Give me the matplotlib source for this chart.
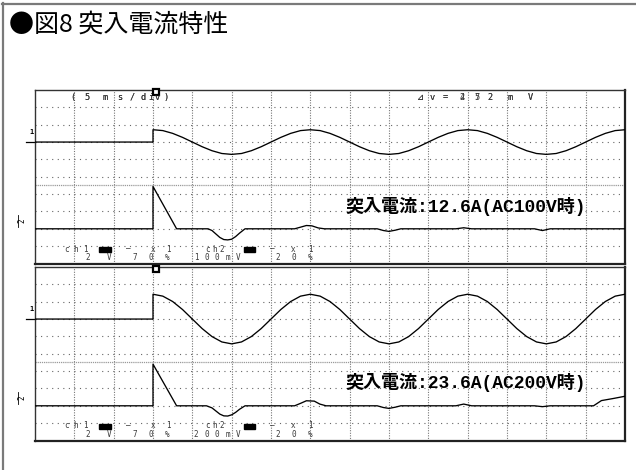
import matplotlib
matplotlib.use("Agg")
import matplotlib.pyplot as plt
from matplotlib.patches import Rectangle
from matplotlib.lines import Line2D
import numpy as np

plt.rcParams['font.family'] = ['Noto Sans CJK JP', 'DejaVu Sans']

# ---------------- data ----------------
TITLE = "●図8 突入電流特性"
TIME_DIV_LABEL = "(5ms/div)"
PANEL_DV = ["⊿v=252mV", "⊿v=472mV"]
PANEL_NOTE = ["突入電流:12.6A(AC100V時)", "突入電流:23.6A(AC200V時)"]
CH2_SCALE = ["100mV", "200mV"]

# time in ms (5 ms/div, trigger at 0)
PRE_T = [-15.0, 0.0]
PRE_V = [0.0, 0.0]
SINE_T = [0.0, 1.25, 2.5, 3.75, 5.0, 6.25, 7.5, 8.75, 10.0, 11.25, 12.5, 13.75,
          15.0, 16.25, 17.5, 18.75, 20.0, 21.25, 22.5, 23.75, 25.0, 26.25, 27.5,
          28.75, 30.0, 31.25, 32.5, 33.75, 35.0, 36.25, 37.5, 38.75, 40.0, 41.25,
          42.5, 43.75, 45.0, 46.25, 47.5, 48.75, 50.0, 51.25, 52.5, 53.75, 55.0,
          56.25, 57.5, 58.75, 60.0]
# channel 1 (line voltage), divisions from its baseline
CH1_AC100 = [0.71, 0.66, 0.50, 0.27, 0.00, -0.27, -0.50, -0.66, -0.71, -0.66, -0.50, -0.27,
             0.00, 0.27, 0.50, 0.66, 0.71, 0.66, 0.50, 0.27, 0.00, -0.27, -0.50, -0.66,
             -0.71, -0.66, -0.50, -0.27, 0.00, 0.27, 0.50, 0.66, 0.71, 0.66, 0.50, 0.27,
             0.00, -0.27, -0.50, -0.66, -0.71, -0.66, -0.50, -0.27, 0.00, 0.27, 0.50,
             0.66, 0.71]
CH1_AC200 = [1.43, 1.32, 1.01, 0.55, 0.00, -0.55, -1.01, -1.32, -1.43, -1.32, -1.01, -0.55,
             0.00, 0.55, 1.01, 1.32, 1.43, 1.32, 1.01, 0.55, 0.00, -0.55, -1.01, -1.32,
             -1.43, -1.32, -1.01, -0.55, 0.00, 0.55, 1.01, 1.32, 1.43, 1.32, 1.01, 0.55,
             0.00, -0.55, -1.01, -1.32, -1.43, -1.32, -1.01, -0.55, 0.00, 0.55, 1.01,
             1.32, 1.43]
# channel 2 (inrush current), divisions from its baseline
CH2_T_AC100 = [-15, 0, 0, 3.0, 7.0, 7.5, 8.0, 8.5, 9.0, 9.5, 10.0, 10.5, 11.0, 11.7,
               18.0, 18.8, 19.5, 20.2, 21.0, 21.8, 28.5, 29.3, 30.0, 30.8, 31.5,
               38.5, 39.5, 40.5, 48.5, 49.5, 50.5, 60]
CH2_V_AC100 = [0, 0, 2.44, 0, 0, -0.10, -0.30, -0.50, -0.62, -0.64, -0.60, -0.45, -0.25, 0,
               0, 0.10, 0.19, 0.17, 0.05, 0, 0, -0.10, -0.15, -0.08, 0,
               0, 0.06, 0, 0, -0.10, 0, 0]
CH2_T_AC200 = [-15, 0, 0, 3.0, 6.8, 7.5, 8.0, 8.5, 9.0, 9.5, 10.0, 10.5, 11.0, 11.7,
               18.0, 18.8, 19.5, 20.5, 21.2, 22.0, 28.5, 29.3, 30.0, 30.8, 31.5,
               38.5, 39.5, 40.5, 48.5, 49.5, 50.5, 56.0, 57.0, 58.5, 60]
CH2_V_AC200 = [0, 0, 2.40, 0, 0, -0.12, -0.30, -0.48, -0.58, -0.59, -0.52, -0.38, -0.20, 0,
               0, 0.15, 0.29, 0.27, 0.10, 0, 0, -0.10, -0.15, -0.08, 0,
               0, 0.10, 0, 0, -0.05, 0, 0, 0.30, 0.42, 0.55]

# ---------------- layout / style ----------------
W, H = 636, 470
CH1_BASE, CH2_BASE = 7.0, 2.0
MONO = ['DejaVu Sans Mono', 'DejaVu Sans']
LBL = '#3a3a3a'
TIME_LABEL_PX = [72.7, 86.7, 105, 120, 131.7, 142.7, 150.7, 157.7, 165.7]
DV_LABEL_PX = [420, 432, 445, 462, 477, 490, 510, 530]

fig = plt.figure(figsize=(W / 100, H / 100), dpi=100)
fig.patch.set_facecolor('white')

# outer frame (top and left edges)
fig.add_artist(Line2D([2 / W, 1], [1 - 3.5 / H, 1 - 3.5 / H], color='#7a7a7a', lw=1.6,
                      transform=fig.transFigure))
fig.add_artist(Line2D([2.5 / W, 2.5 / W], [0, 1 - 3 / H], color='#7a7a7a', lw=1.6,
                      transform=fig.transFigure))

fig.text(9 / W, 1 - 25 / H, TITLE, fontsize=18, va='center', ha='left', color='black')

PX0, PX1 = 35, 625
panels = [(90, 263.5), (267, 440.5)]


def fx(px):
    return (px - PX0) / (PX1 - PX0)


def spaced(ax, x0, x1, y, chars, fs=5.5):
    n = len(chars)
    for i, c in enumerate(chars):
        xx = x0 + (x1 - x0) * i / max(n - 1, 1)
        ax.text(fx(xx), y, c, transform=ax.transAxes, ha='center', va='center',
                fontsize=fs, family=MONO, color=LBL, zorder=6)


def placed(ax, xs, y, chars, fs=6.2):
    for xx, c in zip(xs, chars):
        ax.text(fx(xx), y, c, transform=ax.transAxes, ha='center', va='center',
                fontsize=fs, family=MONO, color=LBL, zorder=6)


ch1_data = [CH1_AC100, CH1_AC200]
ch2_data = [(CH2_T_AC100, CH2_V_AC100), (CH2_T_AC200, CH2_V_AC200)]

for k, (top, bot) in enumerate(panels):
    ph = bot - top
    ax = fig.add_axes([PX0 / W, 1 - bot / H, (PX1 - PX0) / W, ph / H])

    def fy(py):
        return (bot - py) / ph

    ax.set_xlim(-15, 60)
    ax.set_ylim(0, 10)
    ax.set_xticks([])
    ax.set_yticks([])
    for s in ax.spines.values():
        s.set_color('#333333')
        s.set_linewidth(1.0)
    ax.spines['right'].set_linewidth(1.6)
    ax.spines['bottom'].set_linewidth(1.6)
    ax.spines['right'].set_color('#222222')
    ax.spines['bottom'].set_color('#222222')

    for xv in range(-10, 60, 5):
        ax.axvline(xv, color='#777777', lw=0.8, ls=(0, (1, 1.3)), zorder=1)
    for yv in range(1, 10):
        ax.axhline(yv, color='#666666', lw=0.8, ls=(0, (1, 4)), zorder=1)
    ax.axhline(4.5, color='#9a9a9a', lw=0.9, ls=(0, (1, 0.7)), zorder=1)

    # traces
    t1 = PRE_T + SINE_T
    v1 = np.array(PRE_V + ch1_data[k]) + CH1_BASE
    ax.plot(t1, v1, color='black', lw=0.95, zorder=4)
    t2, v2 = ch2_data[k]
    ax.plot(t2, np.array(v2) + CH2_BASE, color='black', lw=0.95, zorder=4)

    # channel markers at left
    ax.plot([-16.15, -15], [CH1_BASE, CH1_BASE], color='black', lw=0.9, clip_on=False)
    ax.text(-15.5, CH1_BASE + 0.6, '1', fontsize=5, fontweight='bold', family=MONO,
            ha='center', va='center', clip_on=False)
    ax.text(-16.6, CH2_BASE + 0.45, '2', fontsize=5.5, family=MONO, rotation=90,
            ha='center', va='center', clip_on=False)
    ax.plot([-17.1, -17.1], [CH2_BASE + 0.1, CH2_BASE + 0.8], color='black', lw=0.6,
            clip_on=False)

    # trigger flag
    ax.plot([0.4], [9.9], marker='s', ms=4.2, mfc='white', mec='black', mew=1.6,
            clip_on=False, zorder=7)

    # top labels
    placed(ax, TIME_LABEL_PX, fy(97.5), TIME_DIV_LABEL)
    placed(ax, DV_LABEL_PX, fy(97), PANEL_DV[k])

    # note text
    ax.text(fx(466), fy(207 + (top - 90) - (1.5 if k else 0)),
            PANEL_NOTE[k], transform=ax.transAxes, ha='center', va='center',
            fontsize=13, fontweight='bold', family=['Liberation Mono', 'Noto Sans CJK JP'],
            color='black', zorder=8)

    # bottom channel settings
    r1 = fy(bot - 14.5)
    r2 = fy(bot - 6.0)
    spaced(ax, 67, 85, r1, 'ch1')
    ax.add_patch(Rectangle((fx(99), fy(bot - 11.5)), 12 / (PX1 - PX0), 4.8 / ph,
                           transform=ax.transAxes, color='black', zorder=6))
    spaced(ax, 128, 128, r1, '—')
    spaced(ax, 153, 168, r1, 'x1')
    spaced(ax, 88, 109, r2, '2V')
    spaced(ax, 135, 167, r2, '70%')
    spaced(ax, 208, 222, r1, 'ch2')
    ax.add_patch(Rectangle((fx(244), fy(bot - 11.5)), 11 / (PX1 - PX0), 4.8 / ph,
                           transform=ax.transAxes, color='black', zorder=6))
    spaced(ax, 272, 272, r1, '—')
    spaced(ax, 293, 310, r1, 'x1')
    spaced(ax, 196, 238, r2, CH2_SCALE[k])
    spaced(ax, 278, 310, r2, '20%')

fig.savefig('out.png', dpi=100)
